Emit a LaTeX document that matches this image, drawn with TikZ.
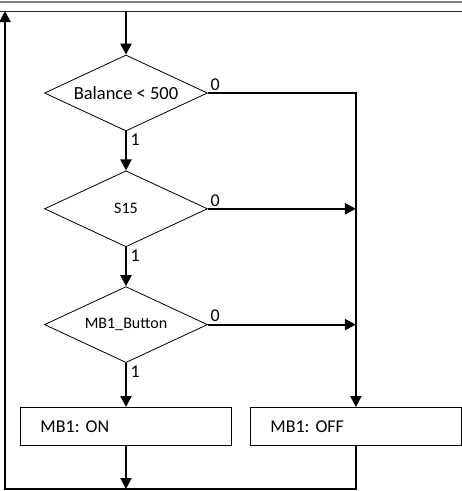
\documentclass[tikz,border=0pt]{standalone}
\usepackage{fontspec}
\setmainfont{Carlito}
\usetikzlibrary{shapes.geometric, positioning, arrows.meta}
\frenchspacing
\tikzset{
x=1pt, y=-1pt, % pixel-like units, y pointing down
decision/.style={diamond, draw, line width=0.8pt, inner sep=0pt, aspect=2.15, minimum width=163pt, minimum height=76pt}, % the test blocks
action/.style={rectangle, draw, line width=0.9pt, minimum height=38pt, text width=171pt, inner xsep=20pt, align=left, font=\fontsize{18}{20}\selectfont}, % the output blocks
flow/.style={line width=2.2pt, -{Triangle[length=11pt,width=11pt]}}, % sets the look of every arrow
lbl/.style={font=\fontsize{18}{20}\selectfont, inner sep=1.5pt}, % the 0 / 1 labels
}
\begin{document}
\begin{tikzpicture}
        \useasboundingbox (0,0) rectangle (462,491);
        \draw[gray, line width=2pt] (0,2) -- (462,2);
        \draw[black!85, line width=1pt] (0,11) -- (462,11);

        \node[decision, font=\fontsize{18.5}{20}\selectfont] (d1) at (126,93) {Balance < 500};
        \node[decision, below=39pt of d1, font=\fontsize{16}{18}\selectfont] (d2) {S15};
        \node[decision, below=39pt of d2, font=\fontsize{16}{18}\selectfont] (d3) {MB1\_Button};
        \node[action, below=44pt of d3] (on) {MB1: ON};
        \node[action, right=18pt of on] (off) {MB1: OFF};

        \coordinate (entry) at (d1.north |- 0,11);
        \coordinate (back) at (off.south |- 0,489);
        \coordinate (corner) at (5,489);
        \coordinate (top) at (5,11);

        \draw[flow] (entry) -- (d1.north);
        \draw[flow] (d1.south) -- node[lbl, pos=0, anchor=north west, xshift=2pt]{1} (d2.north);
        \draw[flow] (d2.south) -- node[lbl, pos=0, anchor=north west, xshift=2pt]{1} (d3.north);
        \draw[flow] (d3.south) -- node[lbl, pos=0, anchor=north west, xshift=2pt]{1} (on.north);
        \draw[flow] (d1.east) -| node[lbl, pos=0, anchor=south west]{0} (off.north);
        \draw[flow] (d2.east) -- node[lbl, pos=0, anchor=south west]{0} (d2.east -| off.north);
        \draw[flow] (d3.east) -- node[lbl, pos=0, anchor=south west]{0} (d3.east -| off.north);
        \draw[flow] (on.south) -- (on.south |- corner);
        \draw[flow, line width=2pt] (off.south) -- (back) -- (corner) -- (top);
\end{tikzpicture}
\end{document}
